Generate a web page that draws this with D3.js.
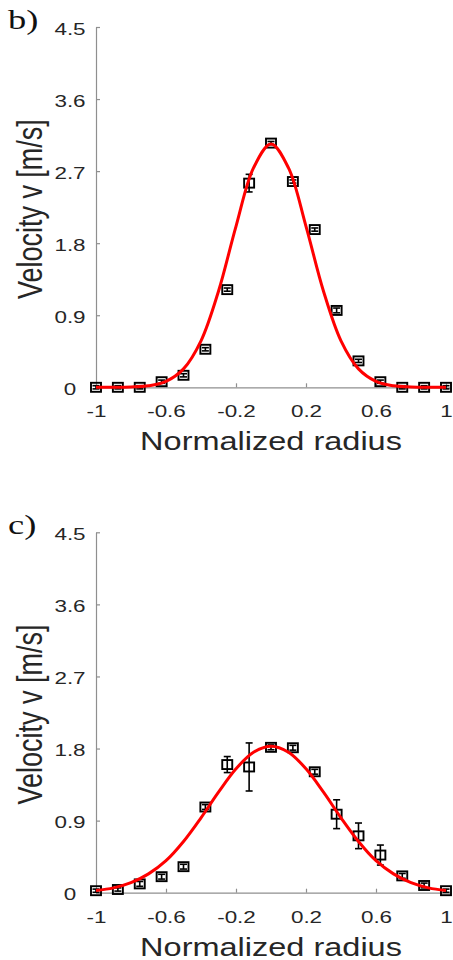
<!DOCTYPE html>
<html>
<head>
<meta charset="utf-8">
<script src="https://cdn.jsdelivr.net/npm/d3@7"></script>
<style>
  body { margin: 0; background: #fff; }
  svg { display: block; }
</style>
</head>
<body>
<script>
// measured points (normalized radius)
var radius = [-1, -0.875, -0.75, -0.625, -0.5, -0.375, -0.25, -0.125, 0,
              0.125, 0.25, 0.375, 0.5, 0.625, 0.75, 0.875, 1];

// panel b) velocity + error
var velB = [0, 0, 0, 0.07, 0.15, 0.475, 1.22, 2.55, 3.05,
            2.57, 1.97, 0.96, 0.33, 0.07, 0, 0, 0];
var errB = [0.02, 0.02, 0.02, 0.02, 0.02, 0.02, 0.02, 0.11, 0.02,
            0.02, 0.02, 0.03, 0.02, 0.02, 0.02, 0.02, 0.02];

// panel c)
var velC = [0.025, 0.04, 0.11, 0.2, 0.325, 1.07, 1.6, 1.57, 1.815,
            1.81, 1.51, 0.98, 0.71, 0.47, 0.21, 0.09, 0.025];
var errC = [0.02, 0.02, 0.03, 0.03, 0.03, 0.03, 0.1, 0.3, 0.03,
            0.03, 0.03, 0.18, 0.16, 0.125, 0.03, 0.03, 0.02];

// red fit curves
var fitX = [-1, -0.9, -0.8, -0.7, -0.6, -0.5, -0.4, -0.3, -0.2, -0.1, 0,
            0.1, 0.2, 0.3, 0.4, 0.5, 0.6, 0.7, 0.8, 0.9, 1];
var fitB = [0, 0, 0.004, 0.019, 0.074, 0.23, 0.58, 1.2, 2.01, 2.74, 3.04,
            2.74, 2.01, 1.2, 0.58, 0.23, 0.074, 0.019, 0.004, 0, 0];
var fitC = [0.027, 0.06, 0.125, 0.235, 0.4, 0.64, 0.935, 1.255, 1.547, 1.754, 1.83,
            1.754, 1.547, 1.255, 0.935, 0.64, 0.4, 0.235, 0.125, 0.06, 0.027];

var xTicks = [-1, -0.6, -0.2, 0.2, 0.6, 1];
var yTicks = [0, 0.9, 1.8, 2.7, 3.6, 4.5];
var panelLabels = ["b)", "c)"];

var W = 453, H = 960;
var sx = 1.32; // the figure is stretched sideways

var svg = d3.select("body").append("svg")
  .attr("width", W).attr("height", H);

var x = d3.scaleLinear().domain([-1, 1.02]).range([96, 449.5]);

function panel(label, top, bottom, vel, err, fit) {
  var y = d3.scaleLinear().domain([0, 4.5]).range([bottom, top]);
  var g = svg.append("g");

  // axes
  var xa = g.append("g")
    .attr("transform", "translate(0," + y(0) + ")")
    .call(d3.axisBottom(x).tickValues(xTicks).tickSize(-4).tickSizeOuter(0)
      .tickFormat(function(d){ return String(d); }));
  var ya = g.append("g")
    .attr("transform", "translate(" + x(-1) + ",0)")
    .call(d3.axisLeft(y).tickValues(yTicks).tickSize(-4).tickSizeOuter(0)
      .tickFormat(function(d){ return String(d); }));

  [xa, ya].forEach(function(a){
    a.select(".domain").attr("stroke", "#8f8f8f").attr("stroke-width", 1.2);
    a.selectAll(".tick line").attr("stroke", "#8f8f8f").attr("stroke-width", 1.2);
    a.selectAll("text")
      .attr("fill", "#262626")
      .attr("font-family", "Liberation Sans, Arial, sans-serif")
      .attr("font-size", 17)
      .attr("x", 0).attr("y", 0)
      .attr("text-anchor", "middle");
  });
  xa.selectAll("text").attr("dy", "0.36em")
    .attr("transform", "translate(0,24) scale(" + sx + ",1)");
  ya.selectAll("text").attr("dy", "0.42em")
    .attr("transform", "translate(-26,0) scale(" + sx + ",1)");

  // axis titles
  g.append("text")
    .attr("transform", "translate(" + (x(-1) + x(1)) / 2 + "," + (y(0) + 63) + ") scale(1.3,1)")
    .attr("text-anchor", "middle")
    .attr("font-family", "Liberation Sans, Arial, sans-serif")
    .attr("font-size", 25)
    .attr("fill", "#262626")
    .text("Normalized radius");

  g.append("text")
    .attr("transform", "translate(42," + ((y(0) + y(4.5)) / 2 + 2) + ") scale(1.3,1) rotate(-90)")
    .attr("text-anchor", "middle")
    .attr("font-family", "Liberation Sans, Arial, sans-serif")
    .attr("font-size", 27)
    .attr("fill", "#262626")
    .text("Velocity v [m/s]");

  g.append("text")
    .attr("transform", "translate(8," + (y(4.5) + 2) + ") scale(1.35,1)")
    .attr("font-family", "Liberation Serif, Times New Roman, serif")
    .attr("font-size", 27)
    .attr("fill", "#111")
    .text(label);

  var pts = radius.map(function(r, i){ return {r: r, v: vel[i], e: err[i]}; });

  // error bars
  var eb = g.append("g").attr("stroke", "#000").attr("stroke-width", 1.6);
  eb.selectAll("line.v").data(pts).enter().append("line")
    .attr("x1", function(d){ return x(d.r); }).attr("x2", function(d){ return x(d.r); })
    .attr("y1", function(d){ return y(d.v - d.e); }).attr("y2", function(d){ return y(d.v + d.e); });
  eb.selectAll("line.lo").data(pts).enter().append("line")
    .attr("x1", function(d){ return x(d.r) - 3.5; }).attr("x2", function(d){ return x(d.r) + 3.5; })
    .attr("y1", function(d){ return y(d.v - d.e); }).attr("y2", function(d){ return y(d.v - d.e); });
  eb.selectAll("line.hi").data(pts).enter().append("line")
    .attr("x1", function(d){ return x(d.r) - 3.5; }).attr("x2", function(d){ return x(d.r) + 3.5; })
    .attr("y1", function(d){ return y(d.v + d.e); }).attr("y2", function(d){ return y(d.v + d.e); });

  // square markers
  g.selectAll("rect.m").data(pts).enter().append("rect")
    .attr("x", function(d){ return x(d.r) - 5; })
    .attr("y", function(d){ return y(d.v) - 4.5; })
    .attr("width", 10).attr("height", 9)
    .attr("fill", "none").attr("stroke", "#000").attr("stroke-width", 1.9);

  // fit curve
  var line = d3.line()
    .x(function(d, i){ return x(fitX[i]); })
    .y(function(d){ return y(d); })
    .curve(d3.curveCatmullRom.alpha(0.5));
  g.append("path").datum(fit)
    .attr("d", line)
    .attr("fill", "none").attr("stroke", "#ff0000").attr("stroke-width", 3);
}

panel(panelLabels[0], 27, 387.3, velB, errB, fitB);
panel(panelLabels[1], 532.3, 892.7, velC, errC, fitC);
</script>
</body>
</html>
